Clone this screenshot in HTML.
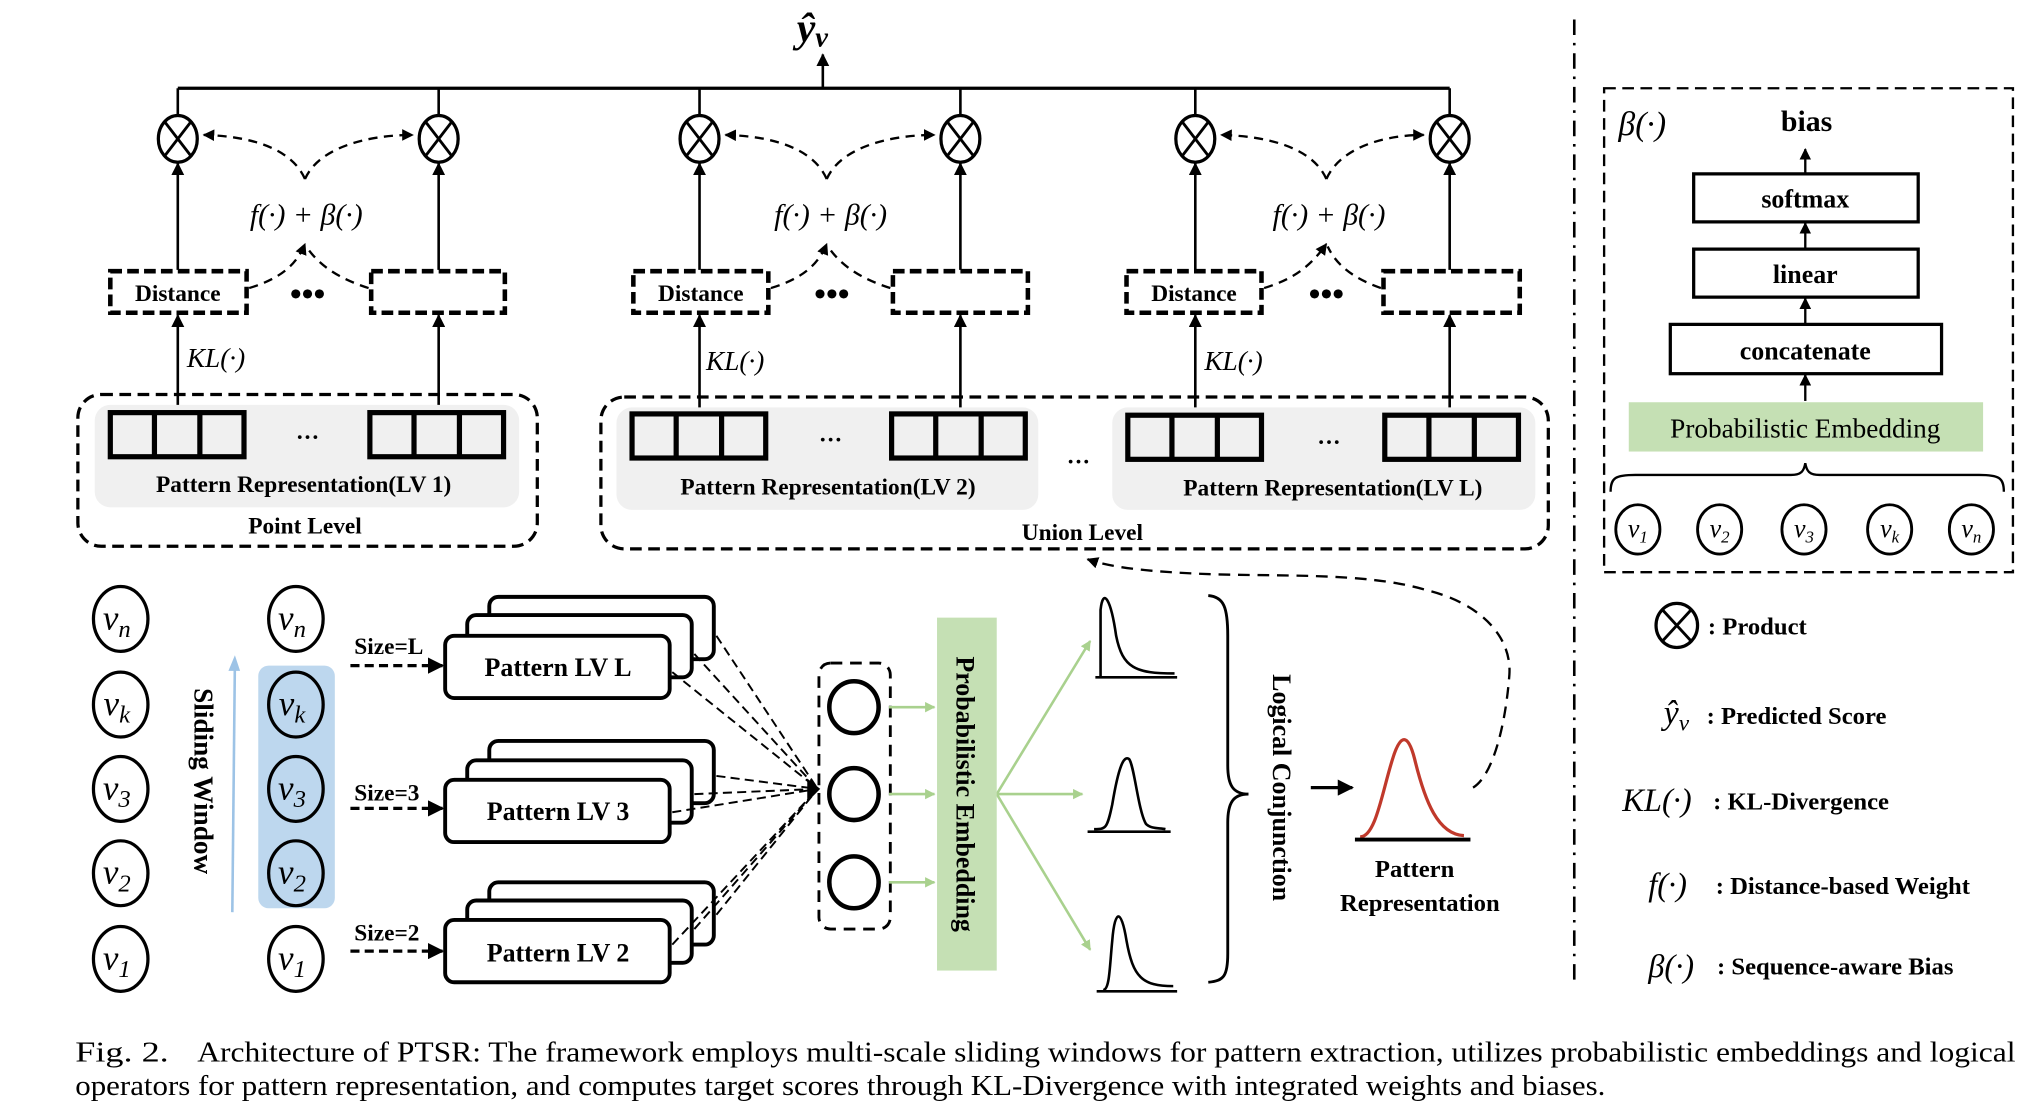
<!DOCTYPE html>
<html><head><meta charset="utf-8"><style>
html,body{margin:0;padding:0;background:#fff;}
svg{display:block;}
text{font-family:"Liberation Serif",serif;}
.b{font-weight:bold;}
.i{font-style:italic;}
</style></head><body>
<svg width="2035" height="1112" viewBox="0 0 1568 857" preserveAspectRatio="none" xmlns="http://www.w3.org/2000/svg">
<defs>
<marker id="ah" viewBox="0 0 10 10" refX="9" refY="5" markerWidth="5" markerHeight="5" orient="auto-start-reverse"><path d="M0,0 L10,5 L0,10z" fill="#000"/></marker>
<marker id="ag" viewBox="0 0 10 10" refX="9" refY="5" markerWidth="4" markerHeight="4" orient="auto"><path d="M0,0 L10,5 L0,10z" fill="#a9d18e"/></marker>
<g id="prod"><ellipse cx="0" cy="0" rx="15" ry="18" fill="#fff" stroke="#000" stroke-width="2.5"/><path d="M-10,-13 L10,13 M10,-13 L-10,13" stroke="#000" stroke-width="2.2"/></g>
<g id="cells"><rect x="0" y="0" width="103" height="34" fill="none" stroke="#000" stroke-width="4"/><path d="M34,0 V34 M69,0 V34" stroke="#000" stroke-width="4"/></g>
</defs>

<text x="614" y="32" font-size="32" class="i b">ŷ<tspan font-size="22" dy="4">v</tspan></text>
<line x1="634" y1="68" x2="634" y2="42" stroke="#000" stroke-width="2" marker-end="url(#ah)"/>
<line x1="137" y1="68" x2="1117" y2="68" stroke="#000" stroke-width="2.5"/>

<g stroke="#000" stroke-width="2" fill="none">
<path d="M137,68 V89 M338,68 V89 M539,68 V89 M740,68 V89 M921,68 V89 M1117,68 V89"/>
</g>
<g>
<use href="#prod" x="137" y="107"/><use href="#prod" x="338" y="107"/>
<use href="#prod" x="539" y="107"/><use href="#prod" x="740" y="107"/>
<use href="#prod" x="921" y="107"/><use href="#prod" x="1117" y="107"/>
</g>
<g stroke="#000" stroke-width="1.8" fill="none" stroke-dasharray="7,5">
<path d="M235,138 C225,115 195,105 157,104" marker-end="url(#ah)"/><path d="M235,138 C245,115 280,104 318,104" marker-end="url(#ah)"/>
<path d="M637,138 C627,115 597,105 559,104" marker-end="url(#ah)"/><path d="M637,138 C647,115 682,104 720,104" marker-end="url(#ah)"/>
<path d="M1022,138 C1012,115 980,105 941,104" marker-end="url(#ah)"/><path d="M1022,138 C1032,115 1064,104 1097,104" marker-end="url(#ah)"/>
<path d="M192,222 C215,215 228,205 235,188" marker-end="url(#ah)"/><path d="M284,222 C262,215 246,205 236,190"/>
<path d="M594,222 C617,215 630,205 637,188" marker-end="url(#ah)"/><path d="M686,222 C664,215 648,205 638,190"/>
<path d="M974,222 C997,215 1010,205 1022,188" marker-end="url(#ah)"/><path d="M1064,222 C1044,215 1030,205 1023,190"/>
</g>
<g font-size="23" class="i" text-anchor="middle">
<text x="236" y="173">f(·) + β(·)</text><text x="640" y="173">f(·) + β(·)</text><text x="1024" y="173">f(·) + β(·)</text>
</g>
<g stroke="#000" stroke-width="3.5" fill="#fff" stroke-dasharray="9,4">
<rect x="85" y="209" width="105" height="32"/><rect x="286" y="209" width="103" height="32"/>
<rect x="488" y="209" width="104" height="32"/><rect x="688" y="209" width="104" height="32"/>
<rect x="868" y="209" width="104" height="32"/><rect x="1066" y="209" width="105" height="32"/>
</g>
<g font-size="18" class="b" text-anchor="middle">
<text x="137" y="232">Distance</text><text x="540" y="232">Distance</text><text x="920" y="232">Distance</text>
<text x="237" y="235" font-size="26">•••</text><text x="641" y="235" font-size="26">•••</text><text x="1022" y="235" font-size="26">•••</text>
</g>
<g stroke="#000" stroke-width="2" marker-end="url(#ah)">
<line x1="137" y1="208" x2="137" y2="126"/><line x1="338" y1="208" x2="338" y2="126"/>
<line x1="539" y1="208" x2="539" y2="126"/><line x1="740" y1="208" x2="740" y2="126"/>
<line x1="921" y1="208" x2="921" y2="126"/><line x1="1117" y1="208" x2="1117" y2="126"/>
<line x1="137" y1="318" x2="137" y2="243"/><line x1="338" y1="318" x2="338" y2="243"/>
<line x1="539" y1="318" x2="539" y2="243"/><line x1="740" y1="318" x2="740" y2="243"/>
<line x1="921" y1="318" x2="921" y2="243"/><line x1="1117" y1="318" x2="1117" y2="243"/>
</g>
<g font-size="21" class="i">
<text x="144" y="283">KL(·)</text><text x="544" y="285">KL(·)</text><text x="928" y="285">KL(·)</text>
</g>

<rect x="60" y="304" width="354" height="117" rx="18" fill="none" stroke="#000" stroke-width="2.5" stroke-dasharray="9,5"/>
<rect x="73" y="312" width="327" height="79" rx="12" fill="#f0f0f0"/>
<rect x="463" y="306" width="730" height="117" rx="18" fill="none" stroke="#000" stroke-width="2.5" stroke-dasharray="9,5"/>
<rect x="475" y="314" width="325" height="79" rx="12" fill="#f0f0f0"/>
<rect x="857" y="314" width="326" height="79" rx="12" fill="#f0f0f0"/>
<use href="#cells" x="85" y="318"/><use href="#cells" x="285" y="318"/>
<use href="#cells" x="487" y="319"/><use href="#cells" x="687" y="319"/>
<use href="#cells" x="869" y="320"/><use href="#cells" x="1067" y="320"/>
<g font-size="18" class="b" text-anchor="middle">
<text x="237" y="343">···</text><text x="640" y="345">···</text><text x="1024" y="347">···</text><text x="831" y="362">···</text>
<text x="234" y="379">Pattern Representation(LV 1)</text>
<text x="638" y="381">Pattern Representation(LV 2)</text>
<text x="1027" y="382">Pattern Representation(LV L)</text>
<text x="235" y="411">Point Level</text>
<text x="834" y="416">Union Level</text>
</g>

<line x1="1213" y1="15" x2="1213" y2="757" stroke="#000" stroke-width="2" stroke-dasharray="12,6,2,6"/>

<rect x="1236" y="68" width="315" height="373" fill="none" stroke="#000" stroke-width="1.8" stroke-dasharray="9,5"/>
<text x="1247" y="104" font-size="26" class="i">β(·)</text>
<text x="1392" y="101" font-size="23" class="b" text-anchor="middle">bias</text>
<g stroke="#000" stroke-width="2.5" fill="#fff">
<rect x="1305" y="134" width="173" height="37"/><rect x="1305" y="192" width="173" height="37"/><rect x="1287" y="250" width="209" height="38"/>
</g>
<g stroke="#000" stroke-width="1.8" marker-end="url(#ah)">
<line x1="1391" y1="133" x2="1391" y2="115"/><line x1="1391" y1="191" x2="1391" y2="172"/>
<line x1="1391" y1="249" x2="1391" y2="230"/><line x1="1391" y1="309" x2="1391" y2="289"/>
</g>
<g font-size="20" class="b" text-anchor="middle">
<text x="1391" y="160">softmax</text><text x="1391" y="218">linear</text><text x="1391" y="277">concatenate</text>
</g>
<rect x="1255" y="310" width="273" height="38" fill="#c5e0b4"/>
<text x="1391" y="337" font-size="21" text-anchor="middle">Probabilistic Embedding</text>
<path d="M1241,379 C1241,368 1245,366 1260,366 L1380,366 C1388,366 1390,363 1391,357 C1392,363 1394,366 1402,366 L1525,366 C1540,366 1544,368 1544,379" fill="none" stroke="#000" stroke-width="1.8"/>
<g stroke="#000" stroke-width="2.2" fill="#fff">
<ellipse cx="1262" cy="408" rx="17" ry="19"/><ellipse cx="1325" cy="408" rx="17" ry="19"/><ellipse cx="1390" cy="408" rx="17" ry="19"/><ellipse cx="1456" cy="408" rx="17" ry="19"/><ellipse cx="1519" cy="408" rx="17" ry="19"/>
</g>
<g font-size="20" class="i" text-anchor="middle">
<text x="1262" y="414">v<tspan font-size="13" dy="4">1</tspan></text>
<text x="1325" y="414">v<tspan font-size="13" dy="4">2</tspan></text>
<text x="1390" y="414">v<tspan font-size="13" dy="4">3</tspan></text>
<text x="1456" y="414">v<tspan font-size="13" dy="4">k</tspan></text>
<text x="1519" y="414">v<tspan font-size="13" dy="4">n</tspan></text>
</g>

<g transform="translate(1292,482)"><ellipse cx="0" cy="0" rx="16" ry="17" fill="#fff" stroke="#000" stroke-width="2.5"/><path d="M-11,-12 L11,12 M11,-12 L-11,12" stroke="#000" stroke-width="2.2"/></g>
<text x="1316" y="489" font-size="19" class="b">: Product</text>
<text x="1282" y="558" font-size="26" class="i">ŷ<tspan font-size="18" dy="5">v</tspan></text>
<text x="1315" y="558" font-size="19" class="b">: Predicted Score</text>
<text x="1250" y="625" font-size="25" class="i">KL(·)</text><text x="1320" y="624" font-size="19" class="b">: KL-Divergence</text>
<text x="1270" y="690" font-size="25" class="i">f(·)</text><text x="1322" y="689" font-size="19" class="b">: Distance-based Weight</text>
<text x="1270" y="753" font-size="25" class="i">β(·)</text><text x="1323" y="751" font-size="19" class="b">: Sequence-aware Bias</text>

<rect x="199" y="513" width="59" height="187" rx="8" fill="#bdd7ee"/>
<g stroke="#000" stroke-width="2.5" fill="none">
<ellipse cx="93" cy="477" rx="21" ry="25"/><ellipse cx="93" cy="543" rx="21" ry="25"/><ellipse cx="93" cy="608" rx="21" ry="25"/><ellipse cx="93" cy="673" rx="21" ry="25"/><ellipse cx="93" cy="739" rx="21" ry="25"/>
<ellipse cx="228" cy="477" rx="21" ry="25"/><ellipse cx="228" cy="543" rx="21" ry="25"/><ellipse cx="228" cy="608" rx="21" ry="25"/><ellipse cx="228" cy="673" rx="21" ry="25"/><ellipse cx="228" cy="739" rx="21" ry="25"/>
</g>
<g font-size="27" class="i" text-anchor="middle">
<text x="90" y="485">v<tspan font-size="19" dy="6">n</tspan></text>
<text x="90" y="551">v<tspan font-size="19" dy="6">k</tspan></text>
<text x="90" y="616">v<tspan font-size="19" dy="6">3</tspan></text>
<text x="90" y="681">v<tspan font-size="19" dy="6">2</tspan></text>
<text x="90" y="747">v<tspan font-size="19" dy="6">1</tspan></text>
<text x="225" y="485">v<tspan font-size="19" dy="6">n</tspan></text>
<text x="225" y="551">v<tspan font-size="19" dy="6">k</tspan></text>
<text x="225" y="616">v<tspan font-size="19" dy="6">3</tspan></text>
<text x="225" y="681">v<tspan font-size="19" dy="6">2</tspan></text>
<text x="225" y="747">v<tspan font-size="19" dy="6">1</tspan></text>
</g>
<line x1="179" y1="703" x2="181" y2="509" stroke="#9dc3e6" stroke-width="2"/>
<path d="M176,517 L181,505 L185,517z" fill="#9dc3e6"/>
<text transform="translate(150,602) rotate(90)" font-size="21" class="b" text-anchor="middle">Sliding Window</text>

<g font-size="18" class="b">
<text x="273" y="504">Size=L</text><text x="273" y="617">Size=3</text><text x="273" y="725">Size=2</text>
</g>
<g stroke="#000" stroke-width="2.5" stroke-dasharray="7,4" marker-end="url(#ah)">
<line x1="270" y1="513" x2="341" y2="513"/><line x1="270" y1="623" x2="341" y2="623"/><line x1="270" y1="733" x2="341" y2="733"/>
</g>
<g stroke="#000" stroke-width="3" fill="#fff">
<rect x="377" y="460" width="173" height="48" rx="7"/><rect x="360" y="474" width="173" height="48" rx="7"/><rect x="343" y="490" width="173" height="48" rx="7"/>
<rect x="377" y="571" width="173" height="48" rx="7"/><rect x="360" y="586" width="173" height="48" rx="7"/><rect x="343" y="601" width="173" height="48" rx="7"/>
<rect x="377" y="680" width="173" height="48" rx="7"/><rect x="360" y="694" width="173" height="48" rx="7"/><rect x="343" y="709" width="173" height="48" rx="7"/>
</g>
<g font-size="20" class="b" text-anchor="middle">
<text x="430" y="521">Pattern LV L</text><text x="430" y="632">Pattern LV 3</text><text x="430" y="741">Pattern LV 2</text>
</g>
<g stroke="#000" stroke-width="1.5" stroke-dasharray="7,4" fill="none">
<path d="M552,490 L630,608 M535,504 L630,608 M518,518 L630,608"/>
<path d="M552,598 L630,608 M535,612 L630,608 M518,626 L630,608"/>
<path d="M552,705 L630,608 M535,716 L630,608 M518,728 L630,608"/>
</g>
<path d="M622,600 L632,608 L622,618z" fill="#000"/>

<rect x="631" y="511" width="55" height="205" rx="9" fill="none" stroke="#000" stroke-width="2.2" stroke-dasharray="9,6"/>
<g stroke="#000" stroke-width="3.5" fill="#fff">
<ellipse cx="658" cy="545" rx="19" ry="20"/><ellipse cx="658" cy="612" rx="19" ry="20"/><ellipse cx="658" cy="680" rx="19" ry="20"/>
</g>
<g stroke="#a9d18e" stroke-width="2" marker-end="url(#ag)">
<line x1="685" y1="545" x2="720" y2="545"/><line x1="685" y1="612" x2="720" y2="612"/><line x1="685" y1="680" x2="720" y2="680"/>
<line x1="768" y1="612" x2="840" y2="494"/><line x1="768" y1="612" x2="834" y2="612"/><line x1="768" y1="612" x2="840" y2="732"/>
</g>
<rect x="722" y="476" width="46" height="272" fill="#c5e0b4"/>
<text transform="translate(737,612) rotate(90)" font-size="20" class="b" text-anchor="middle">Probabilistic Embedding</text>

<g stroke="#000" stroke-width="2" fill="none">
<path d="M848,521 L848,470 C850,452 856,462 860,490 C865,515 875,519 905,519"/><line x1="844" y1="522" x2="907" y2="522"/>
<path d="M843,639 C852,639 853,639 857,620 C862,590 866,582 870,585 C874,590 877,625 883,635 C887,639 893,638 898,639"/><line x1="838" y1="641" x2="902" y2="641"/>
<path d="M850,763 C855,763 855,745 857,725 C859,700 864,700 868,725 C873,753 880,760 904,760"/><line x1="845" y1="764" x2="907" y2="764"/>
</g>
<path d="M931,459 C943,460 946,468 946,490 L946,590 C946,605 950,612 962,612 C950,612 946,619 946,634 L946,735 C946,752 943,756 931,757" fill="none" stroke="#000" stroke-width="2.2"/>
<text transform="translate(981,607) rotate(90)" font-size="20" class="b" text-anchor="middle">Logical Conjunction</text>
<line x1="1010" y1="607" x2="1042" y2="607" stroke="#000" stroke-width="2.5" marker-end="url(#ah)"/>
<path d="M1048,645 C1060,645 1065,610 1073,585 C1079,565 1085,565 1090,585 C1098,618 1108,643 1128,644" fill="none" stroke="#c0392b" stroke-width="2.5"/>
<line x1="1044" y1="647" x2="1133" y2="647" stroke="#000" stroke-width="3"/>
<text x="1090" y="676" font-size="19" class="b" text-anchor="middle">Pattern</text>
<text x="1094" y="702" font-size="19" class="b" text-anchor="middle">Representation</text>
<path d="M1135,607 C1150,598 1160,560 1163,520 C1165,490 1140,465 1100,455 C1050,440 980,445 920,442 C880,440 855,437 838,431" fill="none" stroke="#000" stroke-width="1.8" stroke-dasharray="9,6" marker-end="url(#ah)"/>

<text x="58" y="818" font-size="22" textLength="72" lengthAdjust="spacingAndGlyphs">Fig. 2.</text>
<text x="152" y="818" font-size="22" textLength="1401" lengthAdjust="spacingAndGlyphs">Architecture of PTSR: The framework employs multi-scale sliding windows for pattern extraction, utilizes probabilistic embeddings and logical</text>
<text x="58" y="844" font-size="22" textLength="1179" lengthAdjust="spacingAndGlyphs">operators for pattern representation, and computes target scores through KL-Divergence with integrated weights and biases.</text>
</svg>
</body></html>
